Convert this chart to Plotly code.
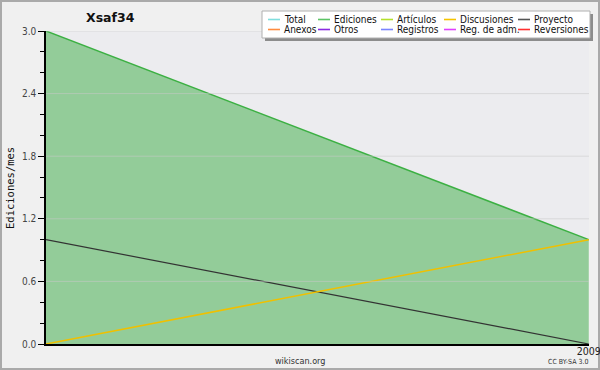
import plotly.graph_objects as go

# ---- data ----
months = ["2008-12-01", "2009-01-01"]
ediciones = [3.0, 1.0]
proyecto = [1.0, 0.0]
discusiones = [0.0, 1.0]
x_tick_vals = ["2009-01-01"]
x_tick_text = ["2009"]
y_ticks = [0.0, 0.6, 1.2, 1.8, 2.4, 3.0]

legend_names = ["Total", "Ediciones", "Artículos", "Discusiones", "Proyecto",
                "Anexos", "Otros", "Registros", "Reg. de adm.", "Reversiones"]
legend_colors = ["#80dede", "#5cc466", "#b4e02c", "#f5c400", "#555555",
                 "#ff8c40", "#8a2be2", "#7a84ff", "#e040ff", "#ff3030"]

# ---- layout geometry ----
W, H = 600, 370
L, R, T, B = 46, 11, 31, 26
PW, PH = W - L - R, H - T - B

FONT = "DejaVu Sans Condensed, DejaVu Sans"


def px(xpx):
    return (xpx - L) / PW


def py(ypx):
    return (T + PH - ypx) / PH


fig = go.Figure()
fig.add_trace(go.Scatter(x=months, y=ediciones, mode="lines", fill="tozeroy",
                         line=dict(color="#3cb043", width=1.5),
                         fillcolor="#93cc99", showlegend=False, hoverinfo="skip"))
fig.add_trace(go.Scatter(x=months, y=proyecto, mode="lines",
                         line=dict(color="#333333", width=1.2),
                         showlegend=False, hoverinfo="skip"))
fig.add_trace(go.Scatter(x=months, y=discusiones, mode="lines",
                         line=dict(color="#f0c000", width=1.5),
                         showlegend=False, hoverinfo="skip"))

shapes = []
annotations = []

# gridlines drawn above the fill (semi-transparent)
for v in y_ticks[1:]:
    shapes.append(dict(type="line", xref="paper", yref="y", x0=0, x1=1, y0=v, y1=v,
                       line=dict(color="rgba(200,200,200,0.55)", width=1), layer="above"))

# outer border
shapes.append(dict(type="rect", xref="paper", yref="paper",
                   x0=px(1), x1=px(599), y0=py(369), y1=py(1),
                   line=dict(color="#aaaaaa", width=2), layer="below"))

# legend box with shadow
shapes.append(dict(type="rect", xref="paper", yref="paper",
                   x0=px(265), x1=px(593), y0=py(41), y1=py(14),
                   line=dict(width=0), fillcolor="#8c8c8c", layer="above"))
shapes.append(dict(type="rect", xref="paper", yref="paper",
                   x0=px(262), x1=px(590), y0=py(38), y1=py(11),
                   line=dict(color="#b0b0b0", width=1), fillcolor="#ffffff", layer="above"))

col_x = [268, 318, 381, 444, 518]
row_y = [19.5, 29.5]
for i, (name, color) in enumerate(zip(legend_names, legend_colors)):
    cx = col_x[i % 5]
    ry = row_y[i // 5]
    shapes.append(dict(type="line", xref="paper", yref="paper",
                       x0=px(cx), x1=px(cx + 12), y0=py(ry), y1=py(ry),
                       line=dict(color=color, width=1.6), layer="above"))
    annotations.append(dict(xref="paper", yref="paper", x=px(cx + 15), y=py(ry),
                            text=name, showarrow=False, xanchor="left", yanchor="middle",
                            borderpad=0,
                            font=dict(family=FONT, size=10, color="#111111")))

# title
annotations.append(dict(xref="paper", yref="paper", x=px(84), y=py(17), text="<b>Xsaf34</b>",
                        showarrow=False, xanchor="left", yanchor="middle",
                        font=dict(family="DejaVu Sans", size=12.5, color="#111111")))
# y-axis title
annotations.append(dict(xref="paper", yref="paper", x=px(10), y=py(188), text="Ediciones/mes",
                        showarrow=False, xanchor="center", yanchor="middle", textangle=-90,
                        font=dict(family="DejaVu Sans Mono", size=10.5, color="#111111")))
# footer
annotations.append(dict(xref="paper", yref="paper", x=px(300), y=py(361), text="wikiscan.org",
                        showarrow=False, xanchor="center", yanchor="middle",
                        font=dict(family=FONT, size=9, color="#333333")))
annotations.append(dict(xref="paper", yref="paper", x=px(590), y=py(362), text="CC BY-SA 3.0",
                        showarrow=False, xanchor="right", yanchor="middle",
                        font=dict(family=FONT, size=7, color="#333333")))

fig.update_layout(
    width=W, height=H,
    margin=dict(l=L, r=R, t=T, b=B, pad=0, autoexpand=False),
    paper_bgcolor="#f0f0f0",
    plot_bgcolor="#ececef",
    showlegend=False,
    shapes=shapes,
    annotations=annotations,
    xaxis=dict(type="date", range=[months[0], "2009-01-01 00:20"], tickvals=x_tick_vals,
               ticktext=x_tick_text, showgrid=False, zeroline=False, automargin=False,
               showline=True, linecolor="#000000", linewidth=1.5, ticks="",
               ticklabeloverflow="allow", ticklabelstandoff=-3,
               tickfont=dict(family=FONT, size=10.5, color="#222222"),
               fixedrange=True),
    yaxis=dict(range=[0, 3], tickvals=y_ticks, tickformat=".1f", showgrid=False,
               zeroline=False, showline=True, linecolor="#000000", linewidth=1.5,
               automargin=False,
               ticks="outside", ticklen=6, tickcolor="#000000", tickwidth=1,
               minor=dict(dtick=0.2, ticks="outside", ticklen=4, tickcolor="#000000", showgrid=False),
               tickfont=dict(family=FONT, size=10, color="#444444"),
               fixedrange=True),
)

fig.write_html("out.html", config={"displayModeBar": False},
               post_script="document.body.style.margin='0px';document.body.style.overflow='hidden';")
